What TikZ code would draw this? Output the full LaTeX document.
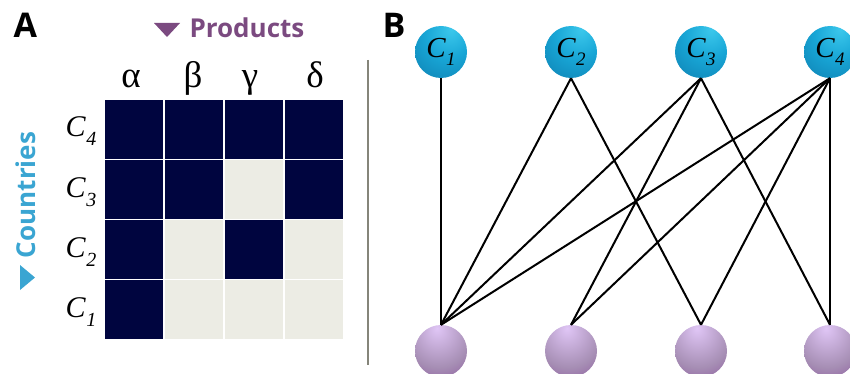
\documentclass[tikz,border=0pt]{standalone}
\usepackage{fontspec}
\setmainfont{Liberation Serif}
\newfontfamily\labsans{Open Sans}
\definecolor{navy}{HTML}{00053F}
\definecolor{pale}{HTML}{ECECE4}
\definecolor{prodcol}{HTML}{7B4A80}
\definecolor{countcol}{HTML}{3AA5D2}
\definecolor{sepcol}{HTML}{85857A}
\definecolor{bhi}{HTML}{3CC8EC}
\definecolor{bmid}{HTML}{18A6D6}
\definecolor{blo}{HTML}{0B74A6}
\definecolor{phi}{HTML}{E0C6F6}
\definecolor{pmid}{HTML}{A68EB4}
\definecolor{plo}{HTML}{7E3A92}
\pgfdeclareradialshading{bluesph}{\pgfpoint{10bp}{22bp}}{color(0bp)=(bhi); color(22bp)=(bmid); color(55bp)=(blo); color(80bp)=(blo)}
\pgfdeclareradialshading{purpsph}{\pgfpoint{-4bp}{22bp}}{color(0bp)=(phi); color(30bp)=(pmid); color(58bp)=(plo); color(85bp)=(plo)}
\newcommand{\clab}[3]{{\fontsize{#2}{#2}\selectfont\itshape C\kern0.02em\raisebox{-0.3em}{\fontsize{#3}{#3}\selectfont #1}}}
\begin{document}
\begin{tikzpicture}[x=1pt,y=-1pt,
  darkcell/.style={fill=navy},
  palecell/.style={fill=pale},
  greek/.style={anchor=base, font=\fontsize{37}{37}\selectfont},
  rowlab/.style={anchor=base},
  sphere/.style={circle, minimum size=52pt, inner sep=0pt},
  topn/.style={sphere, shading=bluesph},
  botn/.style={sphere, shading=purpsph},
  edge/.style={line width=2pt, black},
  panel/.style={anchor=base west, font=\labsans\bfseries\fontsize{34}{34}\selectfont},
  axislab/.style={font=\labsans\bfseries\fontsize{26}{26}\selectfont}]
\useasboundingbox (0,0) rectangle (850,374);
% panel labels
\node[panel] (A) at (10,38) {A};
\node[panel] (B) at (379,38) {B};
% axis labels
\fill[prodcol] (154,23) -- (180,23) -- (167,37) -- cycle;
\node[axislab, text=prodcol, anchor=base west] (prod) at (186,38) {Products};
\fill[countcol] (20,265) -- (35,277.5) -- (20,290) -- cycle;
\node[axislab, text=countcol, rotate=90] (count) at (26,195) {Countries};
% matrix
\foreach \i/\j/\s in {0/0/darkcell,1/0/darkcell,2/0/darkcell,3/0/darkcell,
                      0/1/darkcell,1/1/darkcell,2/1/palecell,3/1/darkcell,
                      0/2/darkcell,1/2/palecell,2/2/darkcell,3/2/palecell,
                      0/3/darkcell,1/3/palecell,2/3/palecell,3/3/palecell}
  \path[\s] ({105+60*\i},{100+60*\j}) rectangle ++(58,59);
% column labels
\node[greek] (ga) at (131,88) {α};
\node[greek] (gb) at (193,88) {β};
\node[greek] (gc) at (250,88) {γ};
\node[greek] (gd) at (315,88) {δ};
% row labels
\node[rowlab] (r4) at (81,137) {\clab{4}{30}{20}};
\node[rowlab] (r3) at (81,197) {\clab{3}{30}{20}};
\node[rowlab] (r2) at (81,257) {\clab{2}{30}{20}};
\node[rowlab] (r1) at (81,317) {\clab{1}{30}{20}};
% separator
\draw[sepcol, line width=1.6pt] (368,60) -- (368,365);
% bipartite network
\node[topn] (c1) at (441,52) {\clab{1}{29}{19}};
\node[topn] (c2) at (571,52) {\clab{2}{29}{19}};
\node[topn] (c3) at (701,52) {\clab{3}{29}{19}};
\node[topn] (c4) at (830,52) {\clab{4}{29}{19}};
\node[botn] (p1) at (441,351) {};
\node[botn] (p2) at (571,351) {};
\node[botn] (p3) at (701,351) {};
\node[botn] (p4) at (830,351) {};
\foreach \c/\p in {c1/p1, c2/p1, c2/p3, c3/p1, c3/p2, c3/p4, c4/p1, c4/p2, c4/p3, c4/p4}
  \draw[edge] (\c.south) -- (\p.north);
\end{tikzpicture}
\end{document}
